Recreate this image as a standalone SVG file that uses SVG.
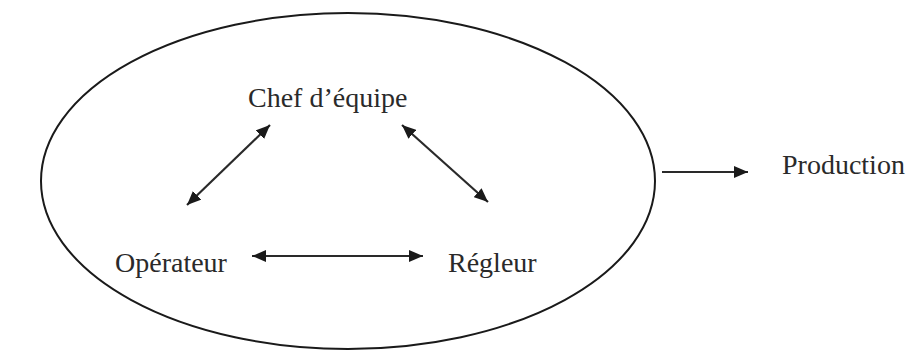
<svg xmlns="http://www.w3.org/2000/svg" width="909" height="361" viewBox="0 0 909 361">
<style>
.lbl{font-family:"Liberation Serif","Times New Roman",serif;font-size:28px;fill:#2a2a2a}
.c{stroke:#2a2a2a;stroke-width:2.2;fill:none}
</style>
<defs>
<marker id="ah" viewBox="0 0 14 12" refX="14" refY="6" markerWidth="14" markerHeight="12" markerUnits="userSpaceOnUse" orient="auto-start-reverse">
<path d="M0,0 L14,6 L0,12 Z" fill="#1a1a1a"/>
</marker>
</defs>
<rect width="909" height="361" fill="#fff"/>
<g id="groupe">
<ellipse cx="348" cy="181" rx="307" ry="168" fill="none" stroke="#1a1a1a" stroke-width="2"/>
</g>
<g id="chef"><text class="lbl" x="248" y="107">Chef d’équipe</text></g>
<g id="operateur"><text class="lbl" x="115" y="272">Opérateur</text></g>
<g id="regleur"><text class="lbl" x="448" y="272">Régleur</text></g>
<g id="production"><text class="lbl" x="782" y="174">Production</text></g>
<g id="connectors">
<line class="c" x1="187" y1="205" x2="270" y2="125" marker-start="url(#ah)" marker-end="url(#ah)"/>
<line class="c" x1="402" y1="125" x2="488" y2="202" marker-start="url(#ah)" marker-end="url(#ah)"/>
<line class="c" x1="252" y1="256" x2="423" y2="256" marker-start="url(#ah)" marker-end="url(#ah)"/>
<line class="c" x1="662" y1="172" x2="748" y2="172" marker-end="url(#ah)"/>
</g>
</svg>
